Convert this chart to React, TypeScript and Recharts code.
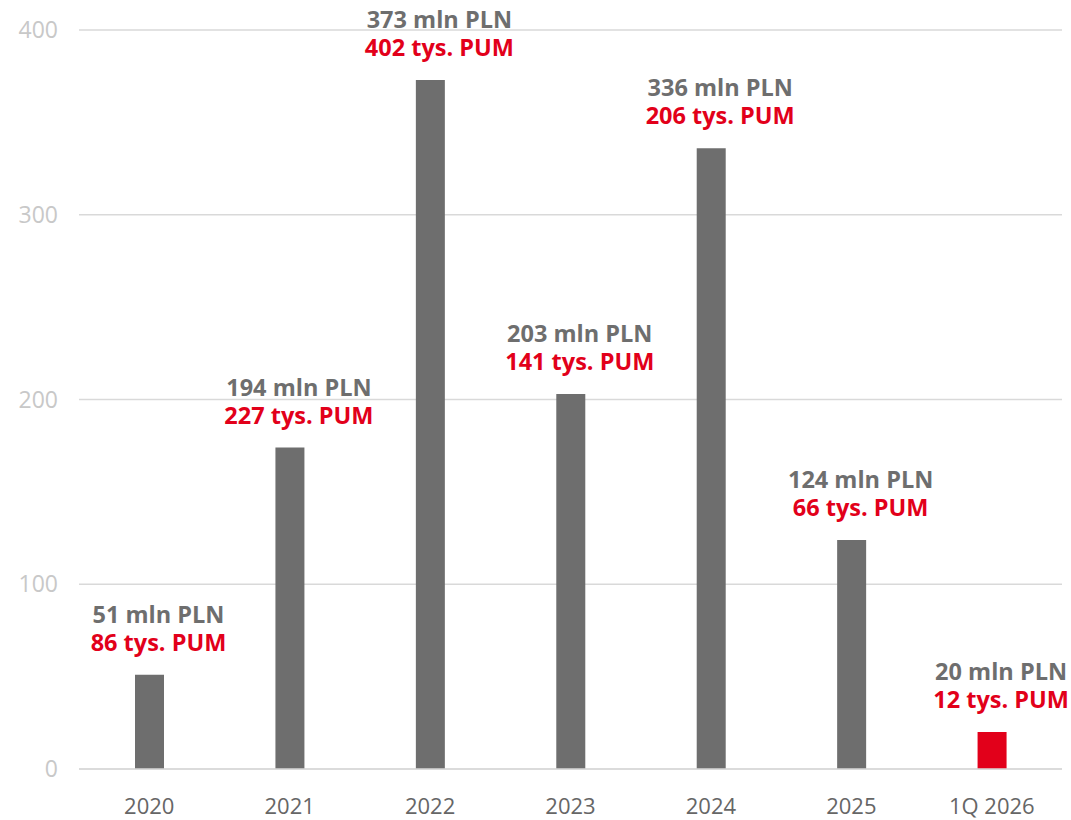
import { Bar, BarChart, CartesianGrid, Cell, LabelList, XAxis, YAxis } from 'recharts';

const categories = ['2020', '2021', '2022', '2023', '2024', '2025', '1Q 2026'];
const values = [51, 174, 373, 203, 336, 124, 20];
const plnLabels = ['51 mln PLN', '194 mln PLN', '373 mln PLN', '203 mln PLN', '336 mln PLN', '124 mln PLN', '20 mln PLN'];
const pumLabels = ['86 tys. PUM', '227 tys. PUM', '402 tys. PUM', '141 tys. PUM', '206 tys. PUM', '66 tys. PUM', '12 tys. PUM'];
const yTicks = [0, 100, 200, 300, 400];

const GREY = '#6e6e6e';
const RED = '#e2001a';
const FONT = '"Open Sans", "DejaVu Sans", sans-serif';

const chartData = categories.map((name, i) => ({
  name,
  value: values[i],
  highlight: i === categories.length - 1,
}));

// two-line label above each bar: amount in grey, area in red
function BarLabel(props: any) {
  const { x, y, width, index } = props;
  const cx = Number(x) + Number(width) / 2 + 9;
  const top = Number(y);
  return (
    <text x={cx} y={top - 52} textAnchor="middle" fontSize={23.5} fontWeight={700} fontFamily={FONT}>
      <tspan x={cx} fill={GREY}>{plnLabels[index]}</tspan>
      <tspan x={cx} dy={28} fill={RED}>{pumLabels[index]}</tspan>
    </text>
  );
}

export default function App() {
  return (
    <div style={{ position: 'absolute', left: 0, top: 0, width: 1071, height: 820, background: '#fff' }}>
      <BarChart
        width={1071}
        height={820}
        data={chartData}
        margin={{ top: 30, right: 9, bottom: 0, left: 0 }}
      >
        <CartesianGrid vertical={false} stroke="#d9d9d9" strokeWidth={1.5} />
        <XAxis
          dataKey="name"
          height={51}
          tickLine={false}
          axisLine={{ stroke: '#d9d9d9', strokeWidth: 1.5 }}
          tickMargin={23}
          tick={{ fill: '#666666', fontSize: 22, fontFamily: FONT }}
          interval={0}
        />
        <YAxis
          domain={[0, 400]}
          ticks={yTicks}
          width={79}
          tickLine={false}
          axisLine={false}
          tickMargin={15}
          tick={{ fill: '#c8c8c8', fontSize: 23, fontFamily: FONT }}
        />
        <Bar dataKey="value" barSize={29} isAnimationActive={false}>
          {chartData.map((d) => (
            <Cell key={d.name} fill={d.highlight ? RED : GREY} />
          ))}
          <LabelList dataKey="value" content={BarLabel} />
        </Bar>
      </BarChart>
    </div>
  );
}
